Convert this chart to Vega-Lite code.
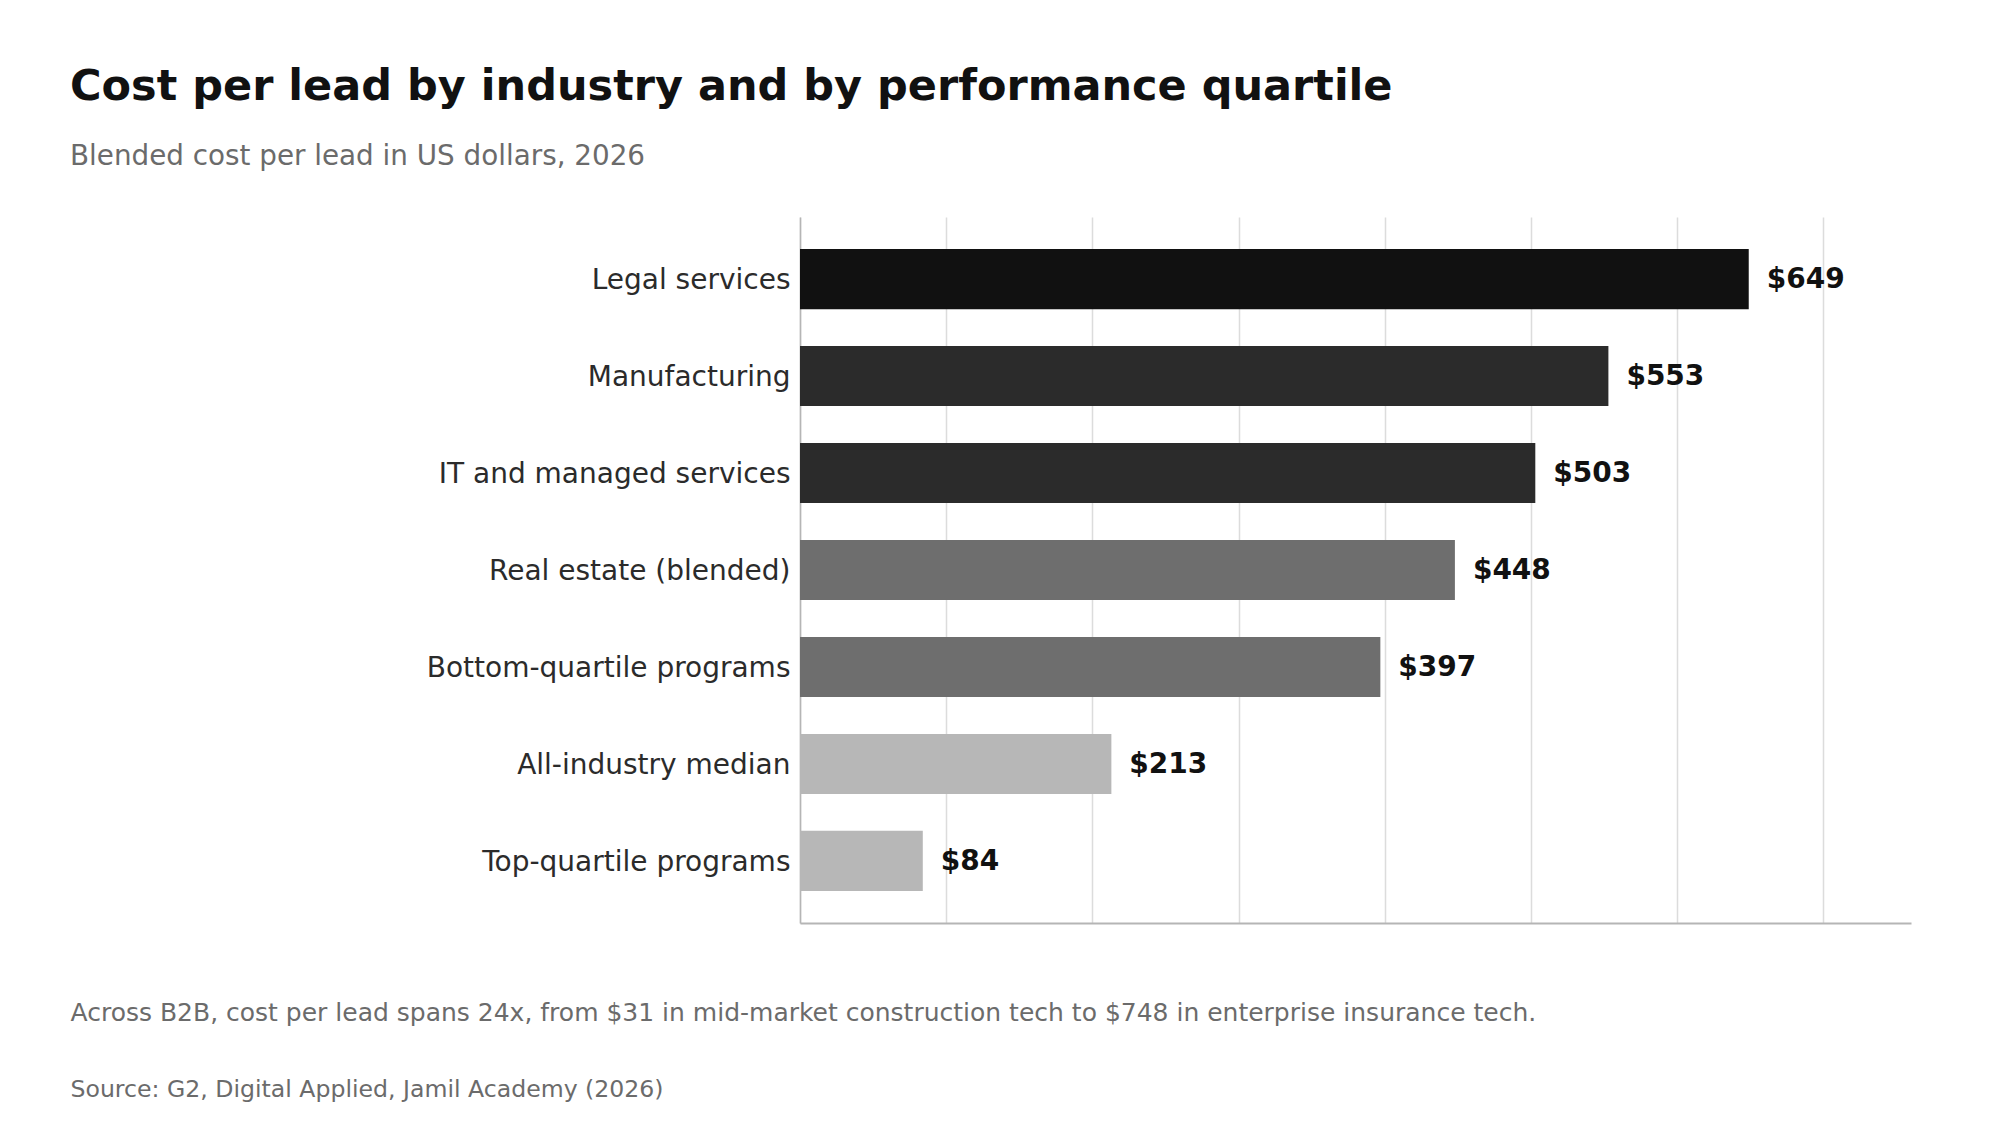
{
  "$schema": "https://vega.github.io/schema/vega-lite/v6.json",
  "width": 1111,
  "height": 706,
  "autosize": {"type": "none"},
  "padding": {"left": 800, "top": 217, "right": 89, "bottom": 217},
  "background": "white",
  "config": {
    "font": "DejaVu Sans",
    "view": {"stroke": null}
  },
  "title": {
    "text": "Cost per lead by industry and by performance quartile",
    "subtitle": "Blended cost per lead in US dollars, 2026",
    "anchor": "start",
    "frame": "group",
    "dx": -730,
    "offset": 46,
    "fontSize": 43,
    "fontWeight": "bold",
    "color": "#111111",
    "subtitleFontSize": 27.8,
    "subtitleColor": "#6b6b6b",
    "subtitlePadding": 34
  },
  "data": {
    "values": [
      {"category": "Legal services", "cost": 649},
      {"category": "Manufacturing", "cost": 553},
      {"category": "IT and managed services", "cost": 503},
      {"category": "Real estate (blended)", "cost": 448},
      {"category": "Bottom-quartile programs", "cost": 397},
      {"category": "All-industry median", "cost": 213},
      {"category": "Top-quartile programs", "cost": 84}
    ]
  },
  "encoding": {
    "y": {
      "field": "category",
      "type": "nominal",
      "sort": "-x",
      "scale": {"paddingInner": 0.38, "paddingOuter": 0.33},
      "axis": {
        "title": "Source: G2, Digital Applied, Jamil Academy (2026)",
        "titleAngle": 0,
        "titleX": -730,
        "titleY": 879,
        "titleAlign": "left",
        "titleAnchor": "start",
        "titleBaseline": "alphabetic",
        "titleFontSize": 23.6,
        "titleFontWeight": "normal",
        "titleColor": "#6b6b6b",
        "ticks": false,
        "grid": false,
        "domain": true,
        "domainColor": "#b5b5b5",
        "domainWidth": 1.5,
        "labelFontSize": 28,
        "labelColor": "#2b2b2b",
        "labelPadding": 10,
        "labelOffset": 2,
        "labelLimit": 0
      }
    },
    "x": {
      "field": "cost",
      "type": "quantitative",
      "scale": {"domain": [0, 760], "nice": false},
      "axis": {
        "values": [0, 100, 200, 300, 400, 500, 600, 700],
        "labels": false,
        "ticks": false,
        "grid": true,
        "gridColor": "#dcdcdc",
        "gridWidth": 1.5,
        "domain": true,
        "domainColor": "#b5b5b5",
        "domainWidth": 2,
        "title": "Across B2B, cost per lead spans 24x, from $31 in mid-market construction tech to $748 in enterprise insurance tech.",
        "titleX": -730,
        "titleY": 97,
        "titleAlign": "left",
        "titleAnchor": "start",
        "titleBaseline": "alphabetic",
        "titleFontSize": 25,
        "titleFontWeight": "normal",
        "titleColor": "#6b6b6b"
      }
    }
  },
  "layer": [
    {
      "mark": {"type": "bar"},
      "encoding": {
        "color": {
          "field": "cost",
          "type": "quantitative",
          "scale": {"type": "threshold", "domain": [300, 500, 600], "range": ["#b7b7b7", "#6e6e6e", "#2b2b2b", "#111111"]},
          "legend": null
        }
      }
    },
    {
      "mark": {"type": "text", "align": "left", "baseline": "middle", "dx": 18, "dy": 1, "fontSize": 28, "fontWeight": "bold", "color": "#111111"},
      "encoding": {
        "text": {"field": "cost", "type": "quantitative", "format": "$,d"}
      }
    }
  ]
}
